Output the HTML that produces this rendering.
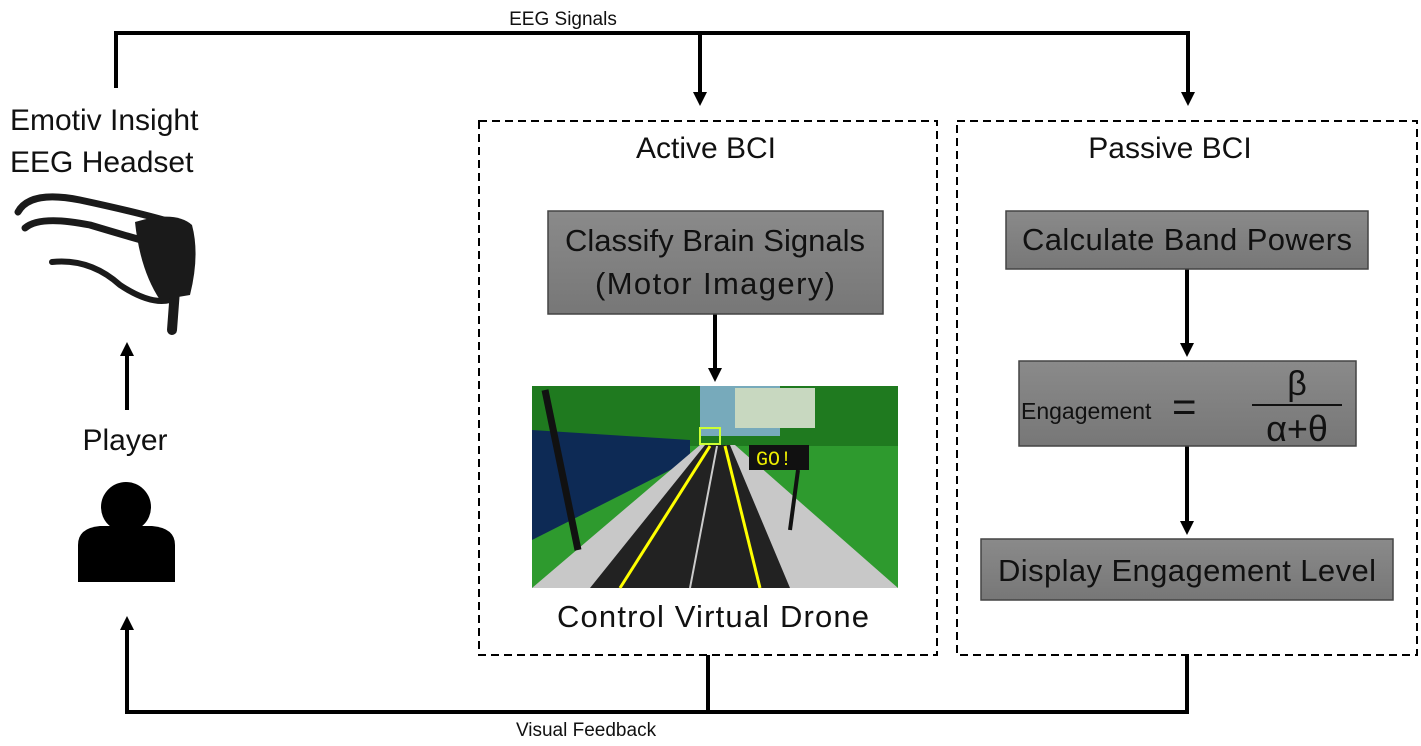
<!DOCTYPE html>
<html><head><style>body{margin:0;background:#fff}svg{display:block}</style></head><body>
<svg width="1421" height="746" viewBox="0 0 1421 746" xmlns="http://www.w3.org/2000/svg" font-family="Liberation Sans, sans-serif">
<defs>
<marker id="a" markerWidth="16" markerHeight="16" refX="4" refY="8" orient="auto" markerUnits="userSpaceOnUse"><path d="M0,1 L14,8 L0,15z" fill="#000"/></marker>
<linearGradient id="g" x1="0" y1="0" x2="0" y2="1"><stop offset="0" stop-color="#8a8a8a"/><stop offset="1" stop-color="#777"/></linearGradient>
</defs>
<g stroke="#000" stroke-width="4" fill="none">
<polyline points="116,88 116,33 1188,33 1188,96"/>
<line x1="700" y1="33" x2="700" y2="96" marker-end="url(#a)"/>
<line x1="1188" y1="33" x2="1188" y2="96" marker-end="url(#a)"/>
<polyline points="708,655 708,712 127,712 127,626" marker-end="url(#a)"/>
<polyline points="1187,655 1187,712 708,712"/>
<line x1="127" y1="410" x2="127" y2="352" marker-end="url(#a)"/>
<line x1="715" y1="314" x2="715" y2="372" marker-end="url(#a)"/>
<line x1="1187" y1="269" x2="1187" y2="347" marker-end="url(#a)"/>
<line x1="1187" y1="446" x2="1187" y2="525" marker-end="url(#a)"/>
</g>
<g stroke="#000" stroke-width="2" fill="none" stroke-dasharray="8,5">
<rect x="479" y="121" width="458" height="534"/>
<rect x="957" y="121" width="460" height="534"/>
</g>
<g stroke="#444" stroke-width="1.5" fill="url(#g)">
<rect x="548" y="211" width="335" height="103"/>
<rect x="1006" y="211" width="362" height="58"/>
<rect x="1019" y="361" width="337" height="85"/>
<rect x="981" y="539" width="412" height="61"/>
</g>
<g fill="#111" font-size="31">
<text x="563" y="25" font-size="19" text-anchor="middle">EEG Signals</text>
<text x="586" y="736" font-size="19" text-anchor="middle">Visual Feedback</text>
<text x="10" y="130" font-size="30">Emotiv Insight</text>
<text x="10" y="172" font-size="30">EEG Headset</text>
<text x="125" y="450" text-anchor="middle" font-size="30">Player</text>
<text x="706" y="158" text-anchor="middle" font-size="30">Active BCI</text>
<text x="1170" y="158" text-anchor="middle" font-size="30">Passive BCI</text>
<text x="715" y="251" text-anchor="middle" textLength="300">Classify Brain Signals</text>
<text x="715" y="294" text-anchor="middle" textLength="240">(Motor Imagery)</text>
<text x="713" y="627" text-anchor="middle" textLength="312">Control Virtual Drone</text>
<text x="1187" y="250" text-anchor="middle" textLength="330">Calculate Band Powers</text>
<text x="1021" y="419" font-size="23">Engagement</text>
<text x="1172" y="421" font-size="42">=</text>
<text x="1297" y="395" text-anchor="middle" font-size="34">β</text>
<line x1="1252" y1="405" x2="1342" y2="405" stroke="#111" stroke-width="2"/>
<text x="1297" y="441" text-anchor="middle" font-size="36">α+θ</text>
<text x="1187" y="581" text-anchor="middle" textLength="378">Display Engagement Level</text>
</g>
<circle cx="126" cy="507" r="25" fill="#000"/>
<path d="M78,582 L78,545 Q78,528 100,526 L152,526 Q175,528 175,545 L175,582z" fill="#000"/>
<g fill="none" stroke="#1a1a1a" stroke-linecap="round">
<path d="M18,212 Q30,190 80,200 Q150,215 180,225" stroke-width="7"/>
<path d="M25,228 Q40,215 90,225 Q140,240 160,245" stroke-width="7"/>
<path d="M52,262 Q90,258 120,285 Q150,305 170,300" stroke-width="6"/>
<path d="M175,290 L172,330" stroke-width="10"/>
</g>
<path d="M135,222 Q175,210 192,225 Q200,255 190,295 L160,300 Q140,270 135,222z" fill="#1a1a1a"/>
<g>
<rect x="532" y="386" width="366" height="202" fill="#2e9a2e"/>
<rect x="532" y="386" width="366" height="60" fill="#1f7a1f"/>
<rect x="700" y="386" width="80" height="50" fill="#7ab"/>
<rect x="735" y="388" width="80" height="40" fill="#c8d8c0"/>
<path d="M532,430 L690,440 L690,460 L532,540z" fill="#0d2a55"/>
<path d="M532,588 L700,445 L735,445 L898,588z" fill="#c8c8c8"/>
<path d="M590,588 L705,445 L730,445 L790,588z" fill="#222"/>
<path d="M620,588 L710,446" stroke="#ff0" stroke-width="3"/>
<path d="M760,588 L725,446" stroke="#ff0" stroke-width="3"/>
<path d="M690,588 L717,446" stroke="#ccc" stroke-width="2"/>
<rect x="749" y="445" width="60" height="25" fill="#111"/>
<text x="756" y="465" fill="#ee0" font-size="20" font-family="Liberation Mono, monospace">GO!</text>
<line x1="798" y1="470" x2="790" y2="530" stroke="#111" stroke-width="4"/>
<line x1="545" y1="390" x2="578" y2="550" stroke="#111" stroke-width="7"/>
<rect x="700" y="428" width="20" height="16" fill="none" stroke="#cf3" stroke-width="2"/>
</g>
</svg>
</body></html>
